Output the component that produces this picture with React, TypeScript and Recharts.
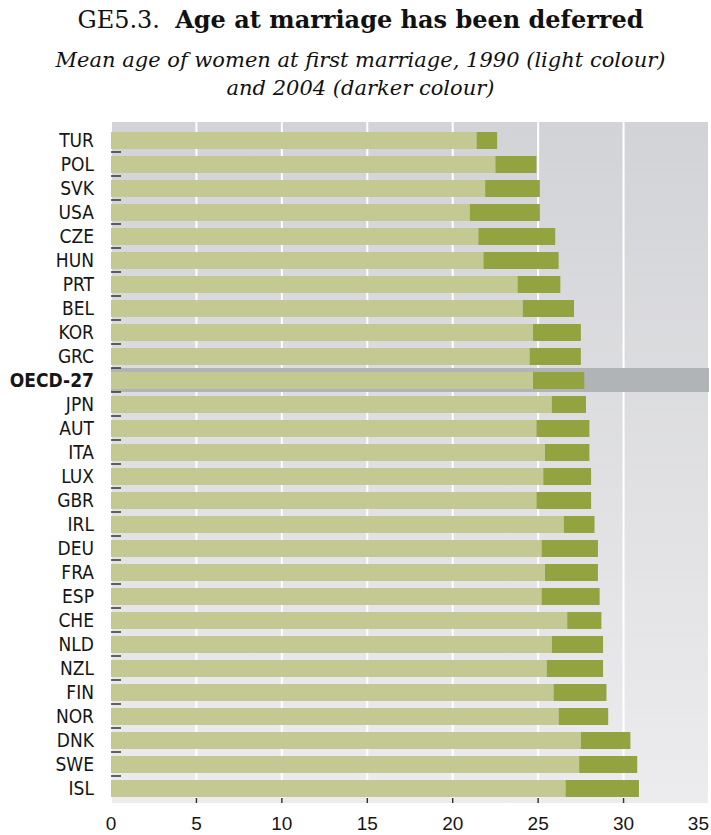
import React from 'react'
import {
  BarChart,
  Bar,
  XAxis,
  YAxis,
  CartesianGrid,
  ReferenceArea,
} from 'recharts'

const COUNTRIES = [
  'TUR', 'POL', 'SVK', 'USA', 'CZE', 'HUN', 'PRT', 'BEL', 'KOR', 'GRC',
  'OECD-27', 'JPN', 'AUT', 'ITA', 'LUX', 'GBR', 'IRL', 'DEU', 'FRA', 'ESP',
  'CHE', 'NLD', 'NZL', 'FIN', 'NOR', 'DNK', 'SWE', 'ISL',
]

// mean age of women at first marriage
const AGE_1990 = [
  21.4, 22.5, 21.9, 21.0, 21.5, 21.8, 23.8, 24.1, 24.7, 24.5,
  24.7, 25.8, 24.9, 25.4, 25.3, 24.9, 26.5, 25.2, 25.4, 25.2,
  26.7, 25.8, 25.5, 25.9, 26.2, 27.5, 27.4, 26.6,
]
const AGE_2004 = [
  22.6, 24.9, 25.1, 25.1, 26.0, 26.2, 26.3, 27.1, 27.5, 27.5,
  27.7, 27.8, 28.0, 28.0, 28.1, 28.1, 28.3, 28.5, 28.5, 28.6,
  28.7, 28.8, 28.8, 29.0, 29.1, 30.4, 30.8, 30.9,
]

const X_TICKS = [0, 5, 10, 15, 20, 25, 30, 35]
const AVERAGE_LABEL = 'OECD-27'

const COLORS = {
  light: '#c4c994',
  dark: '#93a33f',
  band: '#b1b4b7',
  bgTop: '#d2d3d6',
  bgBottom: '#ececee',
  text: '#161616',
}

const LABEL_FONT = "'Liberation Sans Narrow', 'DejaVu Sans Condensed', 'Liberation Sans', Arial, sans-serif"
const SERIF = "'DejaVu Serif', 'Liberation Serif', serif"

const chartData = COUNTRIES.map((country, i) => ({
  country,
  y1990: AGE_1990[i],
  gain: Math.max(0, AGE_2004[i] - AGE_1990[i]),
}))

function CountryTick(props: any) {
  const { x, y, payload, index } = props
  const bold = payload.value === AVERAGE_LABEL
  return (
    <g>
      <text
        x={x}
        y={y}
        dy="0.36em"
        textAnchor="end"
        fill={COLORS.text}
        fontFamily={LABEL_FONT}
        fontSize={19}
        fontWeight={bold ? 700 : 400}
      >
        {payload.value}
      </text>
      {index < COUNTRIES.length - 1 ? (
        <line x1={x + 17} x2={x + 27} y1={y + 12} y2={y + 12} stroke="#333" strokeWidth={1.5} />
      ) : null}
    </g>
  )
}

function AgeTick(props: any) {
  const { x, y, payload } = props
  const v = payload.value
  const last = v === X_TICKS[X_TICKS.length - 1]
  return (
    <g>
      {v > 0 && !last ? <line x1={x} x2={x} y1={y - 5} y2={y} stroke="#333" strokeWidth={1.5} /> : null}
      <text
        x={x}
        y={y + 27}
        textAnchor={last ? 'end' : 'middle'}
        fill={COLORS.text}
        fontFamily="'Liberation Sans', Arial, sans-serif"
        fontSize={19}
      >
        {v}
      </text>
    </g>
  )
}

export default function App() {
  return (
    <div style={{ position: 'absolute', left: 0, top: 0, width: 711, height: 835, background: '#fff' }}>
      <div
        style={{
          position: 'absolute',
          left: 5,
          top: 5,
          width: 711,
          textAlign: 'center',
          fontFamily: SERIF,
          fontSize: 24,
          color: '#111',
          whiteSpace: 'nowrap',
        }}
      >
        GE5.3.&nbsp; <b>Age at marriage has been deferred</b>
      </div>
      <div
        style={{
          position: 'absolute',
          left: 5,
          top: 46,
          width: 711,
          textAlign: 'center',
          fontFamily: SERIF,
          fontStyle: 'italic',
          fontSize: 21,
          lineHeight: '28px',
          color: '#111',
          whiteSpace: 'nowrap',
        }}
      >
        Mean age of women at first marriage, 1990 (light colour)
        <br />
        and 2004 (darker colour)
      </div>
      <div style={{ position: 'absolute', left: 0, top: 0 }}>
        <BarChart
          layout="vertical"
          width={711}
          height={835}
          data={chartData}
          margin={{ top: 122, right: 2, bottom: 0, left: 0 }}
          barSize={17}
        >
          <defs>
            <linearGradient id="plotBg" x1="0" y1="0" x2="0" y2="1">
              <stop offset="0%" stopColor={COLORS.bgTop} />
              <stop offset="100%" stopColor={COLORS.bgBottom} />
            </linearGradient>
          </defs>
          <CartesianGrid horizontal={false} stroke="#ffffff" strokeWidth={2} fill="url(#plotBg)" fillOpacity={1} />
          <ReferenceArea
            y1={AVERAGE_LABEL}
            y2={AVERAGE_LABEL}
            fill={COLORS.band}
            fillOpacity={1}
            stroke="none"
          />
          <XAxis
            type="number"
            domain={[0, 35]}
            ticks={X_TICKS}
            axisLine={false}
            tickLine={false}
            tickSize={0}
            tickMargin={0}
            height={32}
            interval={0}
            tick={<AgeTick />}
          />
          <YAxis
            type="category"
            dataKey="country"
            width={111}
            axisLine={false}
            tickLine={false}
            tickSize={0}
            tickMargin={17}
            interval={0}
            padding={{ top: 6, bottom: 3 }}
            tick={<CountryTick />}
          />
          <Bar dataKey="y1990" stackId="age" fill={COLORS.light} isAnimationActive={false} />
          <Bar dataKey="gain" stackId="age" fill={COLORS.dark} isAnimationActive={false} />
        </BarChart>
      </div>
    </div>
  )
}
